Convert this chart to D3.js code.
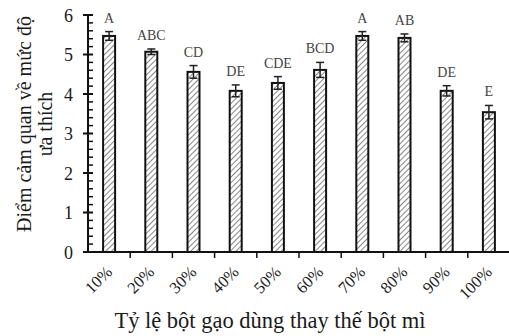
<!DOCTYPE html>
<html>
<head>
<meta charset="utf-8">
<script src="https://cdn.jsdelivr.net/npm/d3@7"></script>
<style>
  html, body { margin: 0; padding: 0; background: #fff; }
  svg { display: block; }
  text { font-family: "Liberation Serif", "Times New Roman", serif; fill: #1a1a1a; }
</style>
</head>
<body>
<svg id="chart" width="509" height="336"></svg>
<script>
// Tỷ lệ bột gạo thay thế bột mì và điểm cảm quan
const categories = ["10%", "20%", "30%", "40%", "50%", "60%", "70%", "80%", "90%", "100%"];
const scores     = [5.47, 5.07, 4.56, 4.08, 4.28, 4.61, 5.47, 5.42, 4.08, 3.54];
const errors     = [0.11, 0.07, 0.16, 0.15, 0.16, 0.19, 0.11, 0.10, 0.13, 0.17];
const groups     = ["A", "ABC", "CD", "DE", "CDE", "BCD", "A", "AB", "DE", "E"];
const yTicks     = [0, 1, 2, 3, 4, 5, 6];

const svg = d3.select("#chart");
const plotLeft = 88, plotRight = 510, plotTop = 15, plotBottom = 252;

const x = d3.scaleBand().domain(categories).range([plotLeft, plotRight]);
const y = d3.scaleLinear().domain([0, 6]).range([plotBottom, plotTop]);

// diagonal hatch fill
const defs = svg.append("defs");
defs.append("pattern")
  .attr("id", "hatch")
  .attr("patternUnits", "userSpaceOnUse")
  .attr("width", 4).attr("height", 4)
  .attr("patternTransform", "rotate(45)")
  .append("line")
  .attr("x1", 0).attr("y1", 0).attr("x2", 0).attr("y2", 4)
  .attr("stroke", "#444").attr("stroke-width", 1.3);

const barW = 12;

// bars
svg.append("g").selectAll("rect")
  .data(categories)
  .join("rect")
  .attr("x", (d) => x(d) + x.bandwidth() / 2 - barW / 2)
  .attr("y", (d, i) => y(scores[i]))
  .attr("width", barW)
  .attr("height", (d, i) => y(0) - y(scores[i]))
  .attr("fill", "url(#hatch)")
  .attr("stroke", "#111")
  .attr("stroke-width", 2);

// error bars
const eb = svg.append("g").attr("stroke", "#222").attr("stroke-width", 1.5);
categories.forEach((c, i) => {
  const cx = x(c) + x.bandwidth() / 2;
  const y1 = y(scores[i] + errors[i]);
  const y2 = y(scores[i] - errors[i]);
  eb.append("line").attr("x1", cx).attr("x2", cx).attr("y1", y1).attr("y2", y2);
  eb.append("line").attr("x1", cx - 4).attr("x2", cx + 4).attr("y1", y1).attr("y2", y1);
  eb.append("line").attr("x1", cx - 4).attr("x2", cx + 4).attr("y1", y2).attr("y2", y2);
});

// significance letters
svg.append("g").selectAll("text")
  .data(categories)
  .join("text")
  .attr("x", (d) => x(d) + x.bandwidth() / 2)
  .attr("y", (d, i) => y(scores[i] + errors[i]) - 9)
  .attr("text-anchor", "middle")
  .attr("font-size", 14)
  .style("fill", "#444")
  .text((d, i) => groups[i]);

// y axis
const yAxis = svg.append("g");
yAxis.append("line")
  .attr("x1", plotLeft).attr("x2", plotLeft).attr("y1", y(6) - 1).attr("y2", y(0))
  .attr("stroke", "#111").attr("stroke-width", 2);
const minor = d3.range(0, 6.0001, 0.2).filter((v) => Math.abs(v - Math.round(v)) > 1e-6);
yAxis.selectAll(".minor").data(minor).join("line")
  .attr("x1", plotLeft).attr("x2", plotLeft + 5)
  .attr("y1", (d) => y(d)).attr("y2", (d) => y(d))
  .attr("stroke", "#111").attr("stroke-width", 1.5);
yAxis.selectAll(".major").data(yTicks).join("line")
  .attr("x1", plotLeft - 5).attr("x2", plotLeft + 5)
  .attr("y1", (d) => y(d)).attr("y2", (d) => y(d))
  .attr("stroke", "#111").attr("stroke-width", 2);
yAxis.selectAll("text").data(yTicks).join("text")
  .attr("x", plotLeft - 15).attr("y", (d) => y(d) + 6.5)
  .attr("text-anchor", "end")
  .attr("font-size", 18)
  .text((d) => d);

// x axis
const xAxis = svg.append("g");
xAxis.append("line")
  .attr("x1", plotLeft - 5).attr("x2", 509).attr("y1", y(0)).attr("y2", y(0))
  .attr("stroke", "#111").attr("stroke-width", 2);
const bounds = categories.slice(1).map((c) => x(c)).concat([x(categories[9]) + x.bandwidth()]);
xAxis.selectAll(".tick").data(bounds).join("line")
  .attr("x1", (d) => d).attr("x2", (d) => d)
  .attr("y1", y(0)).attr("y2", y(0) + 6)
  .attr("stroke", "#111").attr("stroke-width", 1.5);
xAxis.selectAll("text").data(categories).join("text")
  .attr("transform", (d) => `translate(${x(d) + x.bandwidth() / 2 + 4},${y(0) + 21}) rotate(-45)`)
  .attr("text-anchor", "end")
  .attr("font-size", 16.5)
  .text((d) => d);

// axis titles
svg.append("text")
  .attr("x", 270).attr("y", 328)
  .attr("text-anchor", "middle")
  .attr("font-size", 22.5)
  .text("Tỷ lệ bột gạo dùng thay thế bột mì");

const yt = svg.append("text")
  .attr("transform", "translate(31,124) rotate(-90)")
  .attr("text-anchor", "middle")
  .attr("font-size", 20);
yt.append("tspan").attr("x", 0).attr("dy", 0).text("Điểm cảm quan về mức độ");
yt.append("tspan").attr("x", 0).attr("dy", 21).text("ưa thích");
</script>
</body>
</html>
